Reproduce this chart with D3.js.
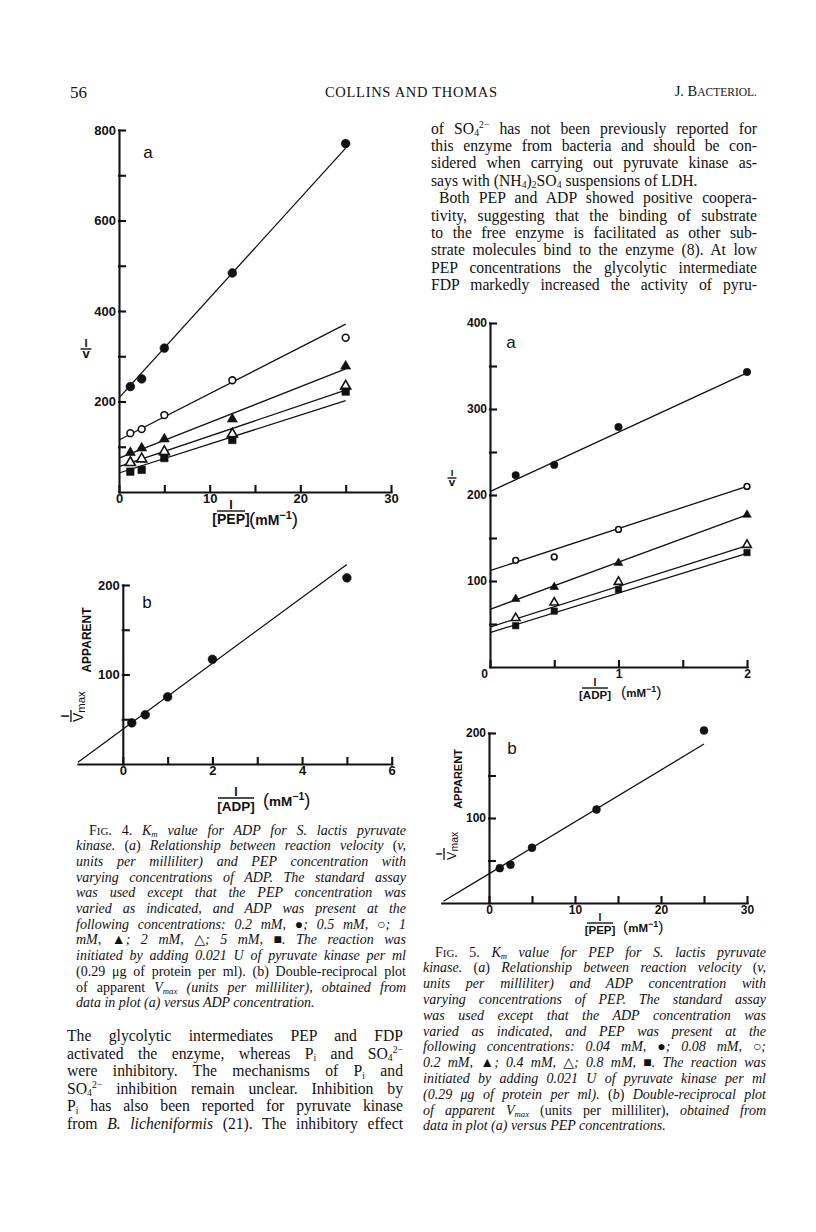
<!DOCTYPE html>
<html>
<head>
<meta charset="utf-8">
<script src="https://cdn.jsdelivr.net/npm/d3@7"></script>
<style>
  html, body { margin: 0; padding: 0; background: #fff; }
  svg { display: block; }
  text { white-space: pre; }
</style>
</head>
<body>
<svg id="page" width="816" height="1232"></svg>
<script>
// ---- data ----
// Fig. 4a: 1/v against 1/[PEP], one series per ADP level
const pepInv = [1.25, 2.5, 5, 12.5, 25];
const adpLevels = ['0.2 mM', '0.5 mM', '1 mM', '2 mM', '5 mM'];
const v4a = [
  [233, 250, 318, 484, 770],
  [130, 139, 170, 247, 341],
  [87, 97, 117, 161, 278],
  [65, 73, 89, 128, 234],
  [45, 49, 75, 115, 222]
];
const fitX4a = [0, 25];
const fit4a = [[208, 760], [115, 371], [75, 272], [56, 225], [42, 202]];

// Fig. 4b: 1/Vmax apparent against 1/[ADP]
const adpInv = [0.2, 0.5, 1, 2, 5];
const vmax4b = [46, 55, 75, 117, 208];
const fitX4b = [-1, 5];
const fit4b = [2, 223];

// Fig. 5a: 1/v against 1/[ADP], one series per PEP level
const adpInv5 = [0.2, 0.5, 1, 2];
const pepLevels = ['0.04 mM', '0.08 mM', '0.2 mM', '0.4 mM', '0.8 mM'];
const v5a = [
  [223, 235, 279, 343],
  [124, 128, 160, 210],
  [79, 93, 121, 177],
  [57, 75, 99, 142],
  [48, 65, 90, 133]
];
const fitX5a = [0, 2];
const fit5a = [[204, 342], [112, 210], [67, 177], [46.5, 141], [40, 132]];

// Fig. 5b: 1/Vmax apparent against 1/[PEP]
const vmax5b = [41, 45, 65, 110, 203];
const fitX5b = [-5.3, 25];
const fit5b = [2, 187];

const markerKinds = ['dotFilled', 'dotOpen', 'triFilled', 'triOpen', 'sqFilled'];

// ---- text ----
const rightTop = [
  'of SO_{4}^{2−} has not been previously reported for',
  'this enzyme from bacteria and should be con-',
  'sidered when carrying out pyruvate kinase as-',
  'says with (NH_{4})_{2}SO_{4} suspensions of LDH.',
  'Both PEP and ADP showed positive coopera-',
  'tivity, suggesting that the binding of substrate',
  'to the free enzyme is facilitated as other sub-',
  'strate molecules bind to the enzyme (8). At low',
  'PEP concentrations the glycolytic intermediate',
  'FDP markedly increased the activity of pyru-'
];
const caption4 = [
  '|F#{IG}. 4.| K_{m} value for ADP for S. lactis pyruvate',
  'kinase. |(|a|)| Relationship between reaction velocity |(|v,',
  'units per milliliter) and PEP concentration with',
  'varying concentrations of ADP. The standard assay',
  'was used except that the PEP concentration was',
  'varied as indicated, and ADP was present at the',
  'following concentrations: 0.2 mM, ●; 0.5 mM, ○; 1',
  'mM, ▲; 2 mM, △; 5 mM, ■. The reaction was',
  'initiated by adding 0.021 U of pyruvate kinase per ml',
  '|(0.29 μg of protein per ml). (b) Double-reciprocal plot|',
  '|of apparent |V_{max} (units per milliliter), obtained from',
  'data in plot (a) versus ADP concentration.'
];
const bodyLeft = [
  'The glycolytic intermediates PEP and FDP',
  'activated the enzyme, whereas P_{i} and SO_{4}^{2−}',
  'were inhibitory. The mechanisms of P_{i} and',
  'SO_{4}^{2−} inhibition remain unclear. Inhibition by',
  'P_{i} has also been reported for pyruvate kinase',
  'from |B. licheniformis| (21). The inhibitory effect'
];
const caption5 = [
  '|F#{IG}. 5.| K_{m} value for PEP for S. lactis pyruvate',
  'kinase. |(|a|)| Relationship between reaction velocity |(|v,',
  'units per milliliter) and ADP concentration with',
  'varying concentrations of PEP. The standard assay',
  'was used except that the ADP concentration was',
  'varied as indicated, and PEP was present at the',
  'following concentrations: 0.04 mM, ●; 0.08 mM, ○;',
  '0.2 mM, ▲; 0.4 mM, △; 0.8 mM, ■. The reaction was',
  'initiated by adding 0.021 U of pyruvate kinase per ml',
  '(0.29 μg of protein per ml). |(|b|)| Double-reciprocal plot',
  'of apparent V_{max} |(units per milliliter),| obtained from',
  'data in plot (a) versus PEP concentrations.'
];

const svg = d3.select('#page');
const serif = '"Liberation Serif", "DejaVu Serif", serif';
const sans = '"Liberation Sans", Arial, sans-serif';
const ink = '#111';

// one line of typeset text, justified with word-spacing
function textLine(parent, x, y, width, src, o) {
  const t = parent.append('text').attr('x', x).attr('y', y)
    .attr('font-family', serif).attr('font-size', o.size).attr('fill', ink);
  let italic = !!o.italic, base = 0, plain = '';
  const parts = src.split(/(_\{[^}]*\}|\^\{[^}]*\}|#\{[^}]*\}|\|)/).filter(s => s !== '');
  parts.forEach(p => {
    if (p === '|') { italic = !italic; return; }
    let txt = p, size = o.size, shift = 0;
    if (p.startsWith('_{')) { txt = p.slice(2, -1); size = o.size * 0.62; shift = o.size * 0.16; }
    else if (p.startsWith('^{')) { txt = p.slice(2, -1); size = o.size * 0.62; shift = -o.size * 0.34; }
    else if (p.startsWith('#{')) { txt = p.slice(2, -1).toUpperCase(); size = o.size * 0.78; }
    t.append('tspan').text(txt).attr('font-size', size)
      .attr('font-style', italic ? 'italic' : 'normal')
      .attr('dy', shift - base);
    base = shift;
    plain += txt;
  });
  if (o.justify) {
    const spaces = (plain.match(/ /g) || []).length;
    const len = t.node().getComputedTextLength();
    if (spaces > 0) t.style('word-spacing', ((width - len) / spaces) + 'px');
  }
  return t;
}

function paragraph(lines, x, y0, step, width, o, lastLines, indents) {
  const g = svg.append('g');
  lines.forEach((ln, i) => {
    const ind = (indents && indents[i]) || 0;
    textLine(g, x + ind, y0 + i * step, width - ind, ln,
      Object.assign({}, o, { justify: !(lastLines || []).includes(i) }));
  });
}

// ---- running head ----
svg.append('text').attr('x', 70).attr('y', 98).attr('font-family', serif)
  .attr('font-size', 17).attr('fill', ink).text('56');
svg.append('text').attr('x', 325).attr('y', 97).attr('font-family', serif)
  .attr('font-size', 14.5).attr('fill', ink)
  .attr('textLength', 172).attr('lengthAdjust', 'spacing').text('COLLINS AND THOMAS');
const jb = svg.append('text').attr('x', 757).attr('y', 96).attr('font-family', serif)
  .attr('font-size', 14.5).attr('fill', ink).attr('text-anchor', 'end');
jb.append('tspan').text('J. B');
jb.append('tspan').attr('font-size', 11.5).text('ACTERIOL.');

// ---- body text and captions ----
paragraph(rightTop, 431, 133.5, 17.4, 326, { size: 15.7 }, [3], [0, 0, 0, 0, 8]);
paragraph(caption4, 76, 834.5, 15.7, 330, { size: 14, italic: true }, [11], [13]);
paragraph(bodyLeft, 67, 1041, 17.6, 336, { size: 15.7 }, [], []);
paragraph(caption5, 423, 956.5, 15.8, 343, { size: 14, italic: true }, [11], [12]);

// ---- plots ----
function marker(g, kind, cx, cy, s) {
  const shape = kind.startsWith('dot') ? d3.symbolCircle
    : kind.startsWith('tri') ? d3.symbolTriangle : d3.symbolSquare;
  const area = kind.startsWith('dot') ? (kind === 'dotOpen' ? 36 : 60)
    : kind.startsWith('tri') ? 44 : 56;
  const filled = kind.endsWith('Filled');
  g.append('path')
    .attr('d', d3.symbol().type(shape).size(area * s * s)())
    .attr('transform', `translate(${cx},${cy})`)
    .attr('fill', filled ? ink : '#fff')
    .attr('stroke', ink).attr('stroke-width', filled ? 0.6 : 1.6);
}

function panel(cfg) {
  const g = svg.append('g');
  const x = d3.scaleLinear().domain(cfg.xDomain).range(cfg.xRange);
  const y = d3.scaleLinear().domain(cfg.yDomain).range(cfg.yRange);

  const xAx = g.append('g').attr('transform', `translate(0,${y(0)})`)
    .call(d3.axisBottom(x).tickValues(cfg.xTicks).tickSize(-6).tickSizeOuter(0).tickPadding(2)
      .tickFormat(d => cfg.xLabels.includes(d) ? d3.format('d')(d) : ''));
  const yAx = g.append('g').attr('transform', `translate(${x(0)},0)`)
    .call(d3.axisLeft(y).tickValues(cfg.yTicks).tickSize(-6).tickSizeOuter(0).tickPadding(3)
      .tickFormat(d => cfg.yLabels.includes(d) ? d : ''));
  [xAx, yAx].forEach(a => {
    a.selectAll('path, line').attr('stroke', ink).attr('stroke-width', 2.1).attr('stroke-linecap', 'square');
    a.selectAll('text').attr('fill', ink).attr('font-family', sans)
      .attr('font-weight', 'bold').attr('font-size', cfg.tickFont);
  });
  if (cfg.zeroShift) {
    xAx.selectAll('.tick').filter(d => d === 0).select('text').attr('dx', cfg.zeroShift);
  }

  // fitted lines
  const line = d3.line().x(d => x(d[0])).y(d => y(d[1]));
  cfg.fits.forEach(f => {
    g.append('path').attr('d', line([[cfg.fitX[0], f[0]], [cfg.fitX[1], f[1]]]))
      .attr('fill', 'none').attr('stroke', ink).attr('stroke-width', 1.3);
  });
  // points
  cfg.series.forEach((vals, si) => {
    vals.forEach((v, i) => marker(g, cfg.kinds[si], x(cfg.xs[i]), y(v), cfg.markScale));
  });

  // panel letter
  g.append('text').attr('x', cfg.letterPos[0]).attr('y', cfg.letterPos[1])
    .attr('text-anchor', 'middle').attr('font-family', sans).attr('font-size', 17)
    .attr('fill', ink).text(cfg.letter);
  return { g, x, y };
}

// x axis title: 1 over [X] then (mM^-1)
function xTitle(cx, barY, barW, name, ux, uy, fs) {
  const g = svg.append('g').attr('fill', ink).attr('font-family', sans);
  g.append('text').attr('x', cx).attr('y', barY - 2).attr('text-anchor', 'middle')
    .attr('font-size', fs * 0.9).attr('font-weight', 'bold').text('I');
  g.append('line').attr('x1', cx - barW / 2).attr('x2', cx + barW / 2)
    .attr('y1', barY).attr('y2', barY).attr('stroke', ink).attr('stroke-width', 1.4);
  g.append('text').attr('x', cx).attr('y', barY + fs * 0.95).attr('text-anchor', 'middle')
    .attr('font-size', fs).attr('font-weight', 'bold').text(name);
  const u = g.append('text').attr('x', ux).attr('y', uy).attr('font-size', fs).attr('font-weight', 'bold');
  u.append('tspan').attr('font-size', fs * 1.35).attr('font-weight', 'normal').text('(');
  u.append('tspan').text('mM');
  u.append('tspan').attr('font-size', fs * 0.78).attr('dy', -fs * 0.45).text('−1');
  u.append('tspan').attr('font-size', fs * 1.35).attr('font-weight', 'normal').attr('dy', fs * 0.45).text(')');
}

// y axis title 1/v
function yTitleV(cx, barY, barW, fs) {
  const g = svg.append('g').attr('fill', ink).attr('font-family', sans).attr('font-weight', 'bold');
  g.append('text').attr('x', cx).attr('y', barY - 2.5).attr('text-anchor', 'middle')
    .attr('font-size', fs * 0.85).text('I');
  g.append('line').attr('x1', cx - barW / 2).attr('x2', cx + barW / 2)
    .attr('y1', barY).attr('y2', barY).attr('stroke', ink).attr('stroke-width', 1.4);
  g.append('text').attr('x', cx).attr('y', barY + fs * 0.72).attr('text-anchor', 'middle')
    .attr('font-size', fs).text('v');
}

// rotated y title: 1/Vmax APPARENT
function yTitleVmax(fx, fy, ax, ay, fs) {
  const g = svg.append('g').attr('fill', ink).attr('font-family', sans);
  const f = g.append('g').attr('transform', `translate(${fx},${fy}) rotate(-90)`);
  f.append('text').attr('x', -8).attr('y', -9).attr('text-anchor', 'middle')
    .attr('font-size', fs * 0.85).attr('font-weight', 'bold').text('I');
  f.append('line').attr('x1', -14).attr('x2', -2).attr('y1', -7).attr('y2', -7)
    .attr('stroke', ink).attr('stroke-width', 1.3);
  const vt = f.append('text').attr('x', -14).attr('y', 5).attr('font-size', fs * 1.15);
  vt.append('tspan').text('V');
  vt.append('tspan').attr('font-size', fs * 0.95).attr('dy', 2).text('max');
  g.append('text').attr('transform', `translate(${ax},${ay}) rotate(-90)`)
    .attr('text-anchor', 'middle').attr('font-size', fs).attr('font-weight', 'bold')
    .attr('dy', '0.35em').text('APPARENT');
}

// Fig. 4a
panel({
  xDomain: [0, 30], xRange: [119, 391], yDomain: [0, 800], yRange: [492, 130],
  xTicks: [0, 5, 10, 15, 20, 25, 30], xLabels: [0, 10, 20, 30],
  yTicks: [100, 200, 300, 400, 500, 600, 700, 800], yLabels: [200, 400, 600, 800],
  tickFont: 13, xs: pepInv, series: v4a, kinds: markerKinds,
  fitX: fitX4a, fits: fit4a, markScale: 1, letter: 'a', letterPos: [148, 158]
});
xTitle(231, 511, 28, '[PEP]', 249, 525, 14);
yTitleV(86, 349, 11, 13);

// Fig. 4b
panel({
  xDomain: [-1, 6], xRange: [78, 391.7], yDomain: [0, 200], yRange: [764, 585],
  xTicks: [0, 1, 2, 3, 4, 5, 6], xLabels: [0, 2, 4, 6],
  yTicks: [50, 100, 150, 200], yLabels: [100, 200],
  tickFont: 13, xs: adpInv, series: [vmax4b], kinds: ['dotFilled'],
  fitX: fitX4b, fits: [fit4b], markScale: 1, letter: 'b', letterPos: [147, 608]
});
xTitle(236, 798, 36, '[ADP]', 263, 806, 13.5);
yTitleVmax(78, 708, 87, 640, 12);

// Fig. 5a
panel({
  xDomain: [0, 2], xRange: [490, 747], yDomain: [0, 400], yRange: [667, 323],
  xTicks: [0, 0.5, 1, 1.5, 2], xLabels: [0, 1, 2],
  yTicks: [50, 100, 150, 200, 250, 300, 350, 400], yLabels: [100, 200, 300, 400],
  tickFont: 12, xs: adpInv5, series: v5a, kinds: markerKinds, zeroShift: -6,
  fitX: fitX5a, fits: fit5a, markScale: 0.85, letter: 'a', letterPos: [511, 348]
});
xTitle(595, 688, 26, '[ADP]', 621, 697, 11.5);
yTitleV(452, 478, 9, 11.5);

// Fig. 5b
panel({
  xDomain: [-5.5, 30], xRange: [441.7, 747], yDomain: [0, 200], yRange: [903, 733],
  xTicks: [0, 5, 10, 15, 20, 25, 30], xLabels: [0, 10, 20, 30],
  yTicks: [50, 100, 150, 200], yLabels: [100, 200],
  tickFont: 12, xs: pepInv, series: [vmax5b], kinds: ['dotFilled'],
  fitX: fitX5b, fits: [fit5b], markScale: 0.9, letter: 'b', letterPos: [512, 754]
});
xTitle(600, 923, 26, '[PEP]', 623, 932, 11.5);
yTitleVmax(451, 846, 458, 779, 11);
</script>
</body>
</html>
